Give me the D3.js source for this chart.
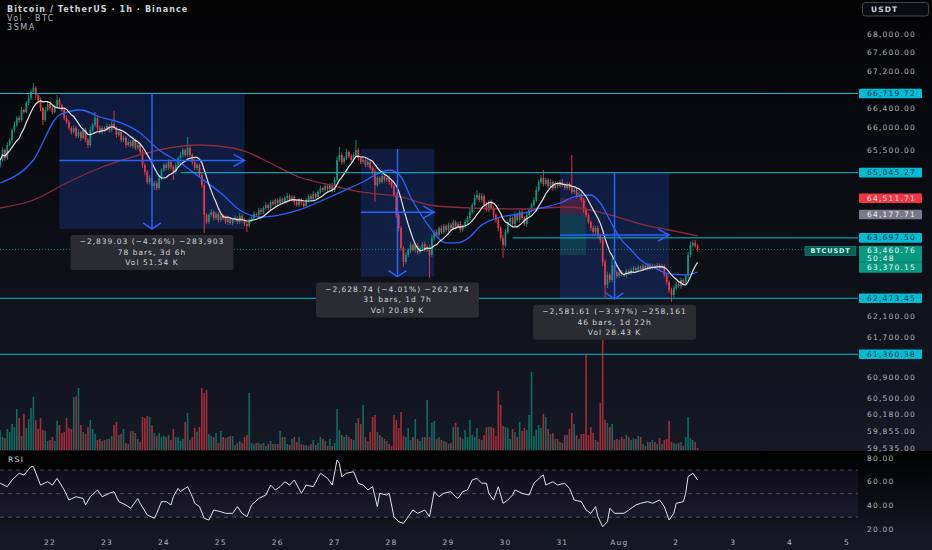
<!DOCTYPE html>
<html>
<head>
<meta charset="utf-8">
<script src="https://cdn.jsdelivr.net/npm/d3@7"></script>
<style>
  html, body { margin: 0; padding: 0; background: #000; }
  svg { display: block; }
</style>
</head>
<body>
<div id="app"></div>
<script>
// ---- BTC/USDT 1h, Jul 21 03:00 .. Aug 2 09:00 (one close per hour) ----
var firstOpen = 65200
var closes = [
  65310, 65520, 65352, 65625, 65731, 65942, 66048, 66197, 66154, 66367,
  66324, 66516, 66623, 66752, 66837, 66687, 66580, 66409, 66154, 66367,
  66495, 66409, 66324, 66452, 66580, 66473, 66367, 66197, 66112, 65985,
  65900, 65985, 65815, 65900, 65773, 65942, 65731, 65625, 65942, 66048,
  66197, 65985, 65900, 65985, 65942, 66027, 65942, 66070, 65985, 65836,
  65900, 65731, 65773, 65625, 65689, 65604, 65731, 65562, 65625, 65478,
  65205, 65058, 64850, 64933, 64767, 64829, 64726, 64933, 65100, 65205,
  65142, 65268, 65163, 65058, 65205, 65352, 65415, 65520, 65415, 65562,
  65415, 65268, 65142, 65205, 64996, 64788, 64167, 64022, 64167, 64229,
  64105, 64187, 64064, 64146, 64105, 64022, 64085, 64002, 64064, 64105,
  64022, 64146, 64064, 63981, 63940, 64064, 64105, 64187, 64167, 64270,
  64229, 64311, 64373, 64311, 64435, 64393, 64476, 64414, 64498, 64435,
  64518, 64560, 64476, 64539, 64435, 64373, 64476, 64414, 64352, 64476,
  64560, 64498, 64601, 64539, 64643, 64726, 64684, 64767, 64705, 64788,
  64684, 64892, 65310, 65415, 65268, 65352, 65478, 65394, 65310, 65415,
  65520, 65352, 65268, 65310, 65205, 65268, 65142, 65058, 64788, 64933,
  64850, 64975, 64892, 64933, 64850, 64767, 64580, 64167, 63899, 63490,
  63205, 63347, 63449, 63551, 63449, 63531, 63409, 63490, 63572, 63449,
  63511, 63347, 63695, 63817, 63756, 63899, 63817, 63940, 63858, 63961,
  63899, 64022, 63920, 63981, 63858, 63940, 64022, 64105, 64229, 64373,
  64518, 64580, 64476, 64560, 64373, 64270, 64435, 64311, 64167, 64064,
  63899, 63695, 63551, 63817, 64022, 64105, 63981, 64167, 64064, 64229,
  64105, 63981, 64167, 64270, 64373, 64476, 64684, 64850, 64933, 64809,
  64892, 64767, 64850, 64726, 64809, 64767, 64850, 64788, 64726, 64809,
  64726, 64643, 64684, 64560, 64601, 64476, 64270, 64167, 64022, 63899,
  63817, 63899, 63736, 63653, 63205, 62741, 62942, 62841, 63144, 63003,
  62922, 63003, 62963, 62942, 63023, 62983, 63043, 63083, 63043, 63104,
  63063, 63124, 63083, 63144, 63083, 63124, 63104, 63144, 63083, 63124,
  62942, 62801, 62639, 62539, 62680, 62761, 62721, 62841, 62801, 62922,
  63347, 63551, 63593, 63531, 63460.76
]
// upper / lower wick beyond the body, in USDT
var wickUp = [
  40, 55, 30, 60, 45, 35, 70, 40, 50, 65,   30, 45, 60, 50, 108, 40, 35, 55, 30, 60,
  45, 70, 40, 35, 107, 50, 30, 45, 60, 40,  35, 55, 40, 65, 30, 45, 50, 35, 60, 40,
  127, 35, 50, 45, 30, 60, 40, 55, 280, 35, 45, 30, 60, 40, 50, 35, 70, 30, 45, 40,
  55, 35, 40, 60, 30, 45, 50, 65, 35, 40,   45, 60, 30, 40, 55, 35, 70, 45, 30, 232,
  40, 35, 55, 45, 30, 60, 50, 40, 35, 55,   30, 45, 40, 60, 35, 50, 30, 45, 40, 55,
  35, 60, 30, 45, 40, 50, 35, 55, 30, 45,   40, 35, 60, 30, 45, 50, 35, 40, 55, 30,
  45, 60, 35, 40, 30, 55, 45, 35, 50, 40,   30, 45, 60, 35, 40, 50, 30, 55, 45, 35,
  40, 60, 75, 168, 50, 45, 70, 35, 40, 55,  211, 45, 35, 60, 40, 50, 30, 45, 55, 40,
  35, 60, 45, 30, 50, 40, 35, 55, 45, 40,   35, 50, 40, 60, 30, 45, 55, 35, 40, 50,
  30, 45, 70, 40, 55, 35, 60, 45, 30, 50,   40, 55, 35, 45, 60, 30, 50, 40, 65, 45,
  70, 104, 45, 60, 40, 55, 35, 50, 40, 30,  45, 35, 60, 50, 40, 55, 30, 65, 45, 40,
  50, 35, 60, 45, 40, 55, 70, 45, 60, 167,  50, 40, 60, 35, 55, 45, 40, 60, 35, 50,
  45, 689, 55, 40, 60, 35, 45, 50, 40, 35,  55, 40, 45, 35, 60, 50, 70, 45, 142, 40,
  35, 50, 40, 30, 45, 35, 50, 40, 30, 45,   35, 40, 30, 45, 35, 50, 30, 40, 35, 45,
  30, 40, 35, 45, 50, 35, 40, 45, 30, 40,   60, 70, 55, 65, 40
]
var wickDn = [
  50, 35, 60, 40, 30, 55, 45, 35, 60, 40,   45, 30, 50, 40, 35, 55, 45, 60, 106, 40,
  35, 50, 45, 30, 40, 60, 35, 50, 45, 40,   55, 35, 45, 40, 60, 30, 50, 63, 40, 35,
  45, 60, 35, 50, 40, 30, 55, 45, 40, 60,   35, 50, 45, 60, 40, 35, 55, 45, 40, 50,
  60, 70, 45, 55, 40, 83, 50, 35, 45, 40,   55, 35, 50, 166, 40, 45, 35, 50, 40, 45,
  35, 50, 45, 40, 60, 55, 370, 45, 40, 35,  50, 40, 55, 35, 45, 40, 60, 35, 50, 40,
  45, 35, 55, 40, 123, 35, 45, 50, 40, 35,  55, 40, 35, 45, 50, 40, 35, 60, 45, 40,
  35, 50, 45, 40, 60, 35, 45, 50, 40, 35,   45, 40, 55, 35, 50, 40, 45, 35, 55, 40,
  50, 45, 40, 35, 55, 45, 40, 50, 35, 45,   40, 55, 45, 35, 50, 40, 45, 60, 353, 40,
  45, 35, 50, 40, 55, 45, 40, 60, 70, 55,   101, 45, 40, 55, 35, 50, 45, 40, 55, 35,
  45, 465, 40, 55, 35, 50, 45, 40, 35, 50,  40, 45, 55, 35, 50, 40, 45, 35, 40, 50,
  35, 45, 40, 55, 50, 35, 45, 40, 55, 60,   70, 55, 265, 45, 40, 50, 35, 45, 40, 55,
  45, 40, 55, 35, 50, 40, 45, 35, 40, 50,   35, 45, 40, 55, 35, 50, 40, 45, 35, 40,
  45, 50, 40, 55, 35, 45, 60, 50, 45, 55,   40, 50, 45, 60, 80, 262, 60, 55, 45, 40,
  50, 35, 45, 40, 55, 35, 45, 40, 50, 35,   40, 45, 35, 50, 40, 35, 45, 40, 50, 35,
  45, 55, 60, 140, 50, 45, 40, 55, 45, 40,  50, 45, 40, 35, 45
]
// volume, BTC per hour
var volumes = [
  800, 520, 480, 840, 720, 1040, 920, 1640, 1280, 560,
  1440, 880, 1240, 1680, 2120, 1200, 840, 1280, 800, 760,
  360, 400, 520, 360, 1160, 1000, 680, 720, 1280, 880,
  840, 2120, 2160, 2480, 1000, 720, 640, 920, 1200,
  840, 640, 400, 440, 360, 400, 440, 440, 560, 1000,
  1120, 600, 640, 840, 280, 240, 760, 760, 680, 440,
  320, 1320, 1280, 1360, 1320, 1000, 680, 560, 680, 520,
  560, 520, 600, 400, 840, 520, 520, 360, 440, 1120,
  1480, 400, 520, 880, 720, 920, 2480, 2280, 2400, 640,
  560, 520, 680, 280, 760, 520, 480, 520, 560, 560,
  200, 280, 360, 280, 520, 600, 2280, 280, 240, 280,
  280, 240, 280, 160, 240, 360, 240, 240, 240, 760,
  520, 520, 240, 200, 440, 520, 320, 520, 240,
  200, 200, 160, 240, 400, 200, 280, 520, 440, 360,
  160, 440, 160, 280, 1640, 800, 600, 520, 600, 520,
  440, 400, 1080, 1280, 1040, 1800, 520, 360, 720, 1320,
  1400, 720, 600, 520, 440, 360, 240, 160, 1400, 1200,
  880, 1520, 560, 520, 880, 400, 520, 1240, 440,
  360, 520, 520, 2000, 520, 1080, 1160, 440, 520, 400,
  360, 320, 240, 280, 920, 1080, 920,
  520, 440, 800, 520, 1200, 600, 520, 880, 440, 400,
  600, 920, 920, 920, 880, 560, 2360, 1800, 960, 920,
  880, 440, 840, 720, 520, 1120, 760, 880, 800, 1400,
  3120, 560, 800, 1000, 880, 1440, 1320, 840, 640, 680,
  440, 440, 320, 280, 600, 600, 840, 1480, 1040, 600,
  440, 640, 640, 3800, 600, 920, 680, 400, 320, 1880,
  5800, 1200, 1080, 920, 1040, 400, 440, 400, 520, 440,
  600, 520, 400, 480, 440, 560, 520, 240, 160, 320,
  320, 400, 320, 240, 480, 240, 400, 440, 1160, 320,
  280, 240, 280, 320, 160, 520, 1320, 480, 400, 320, 80
]
// RSI(14) read at bar index
var rsiBar = [0, 3, 5, 8, 10, 13, 14, 17, 20, 22, 24, 27, 29, 32, 35, 36, 38, 41, 43, 46, 48, 50, 53, 55, 58, 59,
  62, 65, 66, 68, 70, 72, 73, 75, 76, 79, 81, 82, 84, 86, 88, 90, 93, 95, 98, 100, 102, 104, 106, 109, 112, 114,
  116, 118, 120, 122, 124, 127, 129, 132, 135, 138, 140, 142, 143, 144, 146, 149, 151, 153, 155, 157, 159, 160,
  163, 164, 166, 168, 170, 171, 174, 176, 179, 181, 183, 185, 187, 190, 192, 193, 195, 197, 199, 201, 203, 205,
  206, 208, 210, 212, 214, 216, 217, 220, 223, 225, 228, 229, 230, 233, 235, 238, 240, 242, 245, 247, 249, 251,
  252, 254, 256, 257, 259, 263, 265, 268, 270, 273, 275, 278, 280, 282, 284, 285, 288, 289, 290, 292, 294]
var rsiVal = [58.8, 55.9, 61.6, 67.3, 65.8, 72.9, 72.9, 57.3, 60.1, 57.3, 63, 53.1, 44.6, 47.4, 45.9, 40.4, 47.4,
  53.1, 47.4, 50.3, 51.7, 43.2, 40.4, 37.6, 45.9, 41.8, 31.9, 29.1, 33.3, 43.2, 43.2, 40.4, 47.4, 54.5, 51.7, 55.9,
  47.4, 41.8, 39, 29.1, 27.6, 36.1, 34.7, 33.3, 33.3, 39, 33.3, 30.4, 40.4, 45.9, 48.8, 57.3, 53.1, 55.9, 60.1,
  57.3, 61.6, 50.3, 57.3, 55.9, 67.3, 63, 57.3, 78.6, 75.8, 64.4, 67.3, 68.6, 58.8, 57.3, 53.1, 55.9, 39, 50.3,
  48.8, 50.3, 30.4, 26.2, 24.8, 27.6, 36.1, 33.3, 36.1, 30.4, 51.7, 47.4, 50.3, 51.7, 47.4, 46, 51.7, 53.1, 61.6,
  63, 58.8, 58.8, 50.3, 44.6, 55.9, 41.8, 44.6, 48.8, 53.1, 50.3, 48.8, 58.8, 64.4, 65.8, 57.3, 60.1, 57.3, 58.8,
  54.5, 44.6, 43.2, 36.1, 33.3, 39, 30.4, 21.9, 26.2, 37.6, 33.3, 33.3, 36.1, 40.4, 41.8, 43.2, 41.8, 44.6, 39,
  27.6, 33.3, 41.8, 43.2, 50.3, 64.4, 67.3, 61.6]
// medium (blue) and slow (red) SMA read at bar index
var blueBar = [0, 14, 25, 34, 42, 51, 59, 67, 76, 84, 93, 101, 110, 118, 126, 139, 152, 164, 169, 173, 177, 181,
  188, 192, 198, 202, 211, 219, 228, 236, 242, 249, 253, 257, 261, 266, 270, 276, 282, 289, 294]
var bluePrice = [64829, 65310, 66260, 66367, 66218, 66091, 65879, 65520, 65247, 64954, 64622, 64270, 64125, 64167,
  64270, 64539, 64829, 65100, 64954, 64539, 64208, 63920, 63593, 63593, 63715, 63920, 64125, 64187, 64311, 64414,
  64539, 64580, 64414, 64064, 63715, 63449, 63245, 63083, 62963, 62942, 63003]
var redBar = [0, 14, 28, 42, 56, 67, 84, 98, 104, 113, 126, 139, 152, 169, 181, 198, 219, 240, 257, 270, 282, 294]
var redPrice = [64311, 64476, 64829, 65142, 65373, 65520, 65625, 65562, 65478, 65268, 64954, 64788, 64643, 64539,
  64373, 64311, 64290, 64332, 64167, 63981, 63858, 63736]
var fastLen = 9

// horizontal rays
var levelPrices = [66719.72, 65045.27, 63697.50, 62473.45, 61360.38]
var levelStart = [-2, 76, 216, -2, -2]

// date range measurements
var measStart = [25, 152, 236]
var measEnd = [103, 183, 282]
var measTop = [66719.72, 65540.00, 65045.27]
var measBottom = [63880.69, 62911.26, 62463.66]
var measText = [
  ['\u22122,839.03 (\u22124.26%) \u2212283,903', '78 bars, 3d 6h', 'Vol 51.54 K'],
  ['\u22122,628.74 (\u22124.01%) \u2212262,874', '31 bars, 1d 7h', 'Vol 20.89 K'],
  ['\u22122,581.61 (\u22123.97%) \u2212258,161', '46 bars, 1d 22h', 'Vol 28.43 K']
]

// short position tool
var posStart = 236, posEnd = 247
var posStop = 64511.71, posEntry = 64177.71, posTarget = 63347

var lastPrice = 63460.76, lastSma = 63370.15, countdown = '50:48'

var priceTicks = [68400, 68000, 67600, 67200, 66800, 66400, 66000, 65500, 65000, 64500, 64100, 63700, 63300,
  62900, 62500, 62100, 61700, 61300, 60900, 60500, 60180, 59855, 59535]
var rsiTicks = [80, 60, 40, 20]
var rsiLevels = [70, 50, 30]
var dayDates = ['2024-07-22', '2024-07-23', '2024-07-24', '2024-07-25', '2024-07-26', '2024-07-27', '2024-07-28',
  '2024-07-29', '2024-07-30', '2024-07-31', '2024-08-01', '2024-08-02', '2024-08-03', '2024-08-04', '2024-08-05']
var dayLabels = ['22', '23', '24', '25', '26', '27', '28', '29', '30', '31', 'Aug', '2', '3', '4', '5']

// ---- layout ----
var W = 932, H = 550
var plotR = 858
var mainBot = 451, rsiTop = 451, rsiBot = 536
var UP = '#089981', DOWN = '#f23645', CYAN = '#00bcd4'
var AXIS_TXT = '#b2b5be'

var t0 = Date.UTC(2024, 6, 21, 3)
var HOUR = 3600e3

var x = d3.scaleUtc().domain([t0, Date.UTC(2024, 7, 5)]).range([0.19, 847])
var y = d3.scaleLog().domain([59535, 68000]).range([448.3, 34.3])
var yVol = d3.scaleLinear().domain([0, 5800]).range([450, 305])
var yRsi = d3.scaleLinear().domain([20, 80]).range([529, 458.3])
var fmt = d3.format(',.2f')

function bx(i) { return x(t0 + i * HOUR) }

var bars = closes.map(function (c, i) {
  var o = i ? closes[i - 1] : firstOpen
  return { i: i, o: o, c: c, h: Math.max(o, c) + wickUp[i], l: Math.min(o, c) - wickDn[i], v: volumes[i] }
})

var fast = closes.map(function (c, i) {
  return d3.mean(closes.slice(Math.max(0, i - fastLen + 1), i + 1))
})

var svg = d3.select('#app').append('svg')
  .attr('width', W)
  .attr('height', H)
  .style('font-family', '"DejaVu Sans", sans-serif')

var defs = svg.append('defs')

function gradient(id, c0, c1) {
  var g = defs.append('linearGradient').attr('id', id)
    .attr('x1', 0).attr('y1', 0).attr('x2', 0).attr('y2', 1)
  g.append('stop').attr('offset', '0%').attr('stop-color', c0)
  g.append('stop').attr('offset', '100%').attr('stop-color', c1)
}
gradient('bgMain', '#030304', '#151924')
gradient('bgRsi', '#000000', '#141823')

defs.append('clipPath').attr('id', 'clipMain')
  .append('rect').attr('width', plotR).attr('height', mainBot)
defs.append('clipPath').attr('id', 'clipRsi')
  .append('rect').attr('y', rsiTop).attr('width', plotR).attr('height', rsiBot - rsiTop)

svg.append('rect').attr('width', W).attr('height', mainBot).attr('fill', 'url(#bgMain)')
svg.append('rect').attr('y', rsiTop).attr('width', W).attr('height', rsiBot - rsiTop).attr('fill', 'url(#bgRsi)')
svg.append('rect').attr('y', rsiBot).attr('width', W).attr('height', H - rsiBot).attr('fill', '#141823')

function label(g, px, py, s, o) {
  o = o || {}
  return g.append('text')
    .attr('x', px).attr('y', py)
    .attr('dominant-baseline', 'central')
    .attr('text-anchor', o.anchor || 'start')
    .attr('font-size', o.size || 7.5)
    .attr('font-weight', o.weight || 400)
    .attr('letter-spacing', o.ls == null ? 1.2 : o.ls)
    .attr('fill', o.fill || AXIS_TXT)
    .text(s)
}

var main = svg.append('g').attr('clip-path', 'url(#clipMain)')

// measurement boxes (fill)
measStart.forEach(function (s, k) {
  main.append('rect')
    .attr('x', bx(s)).attr('width', bx(measEnd[k]) - bx(s))
    .attr('y', y(measTop[k])).attr('height', y(measBottom[k]) - y(measTop[k]))
    .attr('fill', 'rgba(41,98,255,0.2)')
})

// position tool
main.append('rect')
  .attr('x', bx(posStart)).attr('width', bx(posEnd) - bx(posStart))
  .attr('y', y(posStop)).attr('height', y(posEntry) - y(posStop))
  .attr('fill', 'rgba(242,54,69,0.22)')
main.append('rect')
  .attr('x', bx(posStart)).attr('width', bx(posEnd) - bx(posStart))
  .attr('y', y(posEntry)).attr('height', y(posTarget) - y(posEntry))
  .attr('fill', 'rgba(8,153,129,0.22)')

// volume
main.append('g').selectAll('rect').data(bars).enter().append('rect')
  .attr('x', function (d) { return bx(d.i) - 0.8 })
  .attr('width', 1.6)
  .attr('y', function (d) { return yVol(d.v) })
  .attr('height', function (d) { return yVol(0) - yVol(d.v) })
  .attr('fill', function (d) { return d.c >= d.o ? UP : DOWN })
  .attr('opacity', 0.65)

// candles
var cg = main.append('g')
cg.selectAll('line').data(bars).enter().append('line')
  .attr('x1', function (d) { return bx(d.i) }).attr('x2', function (d) { return bx(d.i) })
  .attr('y1', function (d) { return y(d.h) }).attr('y2', function (d) { return y(d.l) })
  .attr('stroke', function (d) { return d.c >= d.o ? UP : DOWN })
  .attr('stroke-width', 0.9)
cg.selectAll('rect').data(bars).enter().append('rect')
  .attr('x', function (d) { return bx(d.i) - 0.85 })
  .attr('width', 1.7)
  .attr('y', function (d) { return y(Math.max(d.o, d.c)) })
  .attr('height', function (d) { return Math.max(0.8, Math.abs(y(d.o) - y(d.c))) })
  .attr('fill', function (d) { return d.c >= d.o ? UP : DOWN })

// moving averages
var curve = d3.line().curve(d3.curveMonotoneX)
main.append('path')
  .attr('d', curve(redBar.map(function (b, k) { return [bx(b), y(redPrice[k])] })))
  .attr('fill', 'none').attr('stroke', '#8a2c3c').attr('stroke-width', 1.3)
main.append('path')
  .attr('d', curve(blueBar.map(function (b, k) { return [bx(b), y(bluePrice[k])] })))
  .attr('fill', 'none').attr('stroke', '#2962ff').attr('stroke-width', 1.3)
main.append('path')
  .attr('d', d3.line()(fast.map(function (v, i) { return [bx(i), y(v)] })))
  .attr('fill', 'none').attr('stroke', '#e0e3eb').attr('stroke-width', 1.2)

// horizontal rays
levelPrices.forEach(function (p, k) {
  main.append('line')
    .attr('x1', bx(levelStart[k])).attr('x2', plotR)
    .attr('y1', y(p)).attr('y2', y(p))
    .attr('stroke', CYAN).attr('stroke-width', 1)
})

// last price line
main.append('line')
  .attr('x1', 0).attr('x2', plotR)
  .attr('y1', y(lastPrice)).attr('y2', y(lastPrice))
  .attr('stroke', UP).attr('stroke-width', 1).attr('stroke-dasharray', '1,2').attr('opacity', 0.8)

// measurement arrows + info labels
measStart.forEach(function (s, k) {
  var x0 = bx(s), x1 = bx(measEnd[k]), xm = (x0 + x1) / 2
  var yt = y(measTop[k]), yb = y(measBottom[k])
  var ym = y((measTop[k] + measBottom[k]) / 2)
  var a = main.append('g').attr('fill', 'none').attr('stroke', '#2962ff').attr('stroke-width', 1.5)
  a.append('line').attr('x1', xm).attr('x2', xm).attr('y1', yt).attr('y2', yb)
  a.append('polyline').attr('points', [[xm - 9, yb - 6], [xm, yb], [xm + 9, yb - 6]].join(' '))
  a.append('line').attr('x1', x0).attr('x2', x1).attr('y1', ym).attr('y2', ym)
  a.append('polyline').attr('points', [[x1 - 11, ym - 6], [x1, ym], [x1 - 11, ym + 6]].join(' '))

  var lt = yb + 6
  main.append('rect')
    .attr('x', xm - 81.5).attr('y', lt).attr('width', 163).attr('height', 35).attr('rx', 3)
    .attr('fill', '#2b2c31')
  measText[k].forEach(function (t, j) {
    label(main, xm, lt + 6.8 + j * 10.6, t, { anchor: 'middle', fill: '#d1d4dc', ls: 1 })
  })
})

// BTCUSDT tag next to price scale
main.append('rect')
  .attr('x', 805).attr('y', y(lastPrice) - 3).attr('width', 51).attr('height', 9)
  .attr('fill', '#0b5f56').attr('stroke', UP).attr('stroke-width', 0.6)
label(main, 830.5, y(lastPrice) + 1.5, 'BTCUSDT', { anchor: 'middle', size: 6.5, ls: 0.9, fill: '#d6f2ec', weight: 700 })

// ---- RSI pane ----
var rsi = svg.append('g').attr('clip-path', 'url(#clipRsi)')
rsi.append('rect')
  .attr('x', 0).attr('width', plotR)
  .attr('y', yRsi(70)).attr('height', yRsi(30) - yRsi(70))
  .attr('fill', 'rgba(126,87,194,0.1)')
rsiLevels.forEach(function (v) {
  rsi.append('line')
    .attr('x1', 0).attr('x2', plotR).attr('y1', yRsi(v)).attr('y2', yRsi(v))
    .attr('stroke', '#787b86').attr('stroke-width', 0.8)
    .attr('stroke-dasharray', '4,4').attr('opacity', 0.7)
})
rsi.append('path')
  .attr('d', d3.line()(rsiBar.map(function (b, k) { return [bx(b), yRsi(rsiVal[k])] })))
  .attr('fill', 'none').attr('stroke', '#e0e3eb').attr('stroke-width', 1)
label(svg, 8, 459.5, 'RSI', { fill: '#d1d4dc', ls: 1.4 })

// ---- price scale ----
var ax = svg.append('g')
var yl = y(lastPrice)
var tagYs = levelPrices.concat([posStop, posEntry]).map(y)

// a tick label hidden behind a price tag or the currency button is not drawn
priceTicks.filter(function (p) {
  var ty = y(p)
  if (ty < 22) return false
  if (ty > yl - 9 && ty < yl + 28) return false
  return tagYs.every(function (t) { return Math.abs(t - ty) > 8 })
}).forEach(function (p) {
  label(ax, 867, y(p), fmt(p))
})
rsiTicks.forEach(function (v) {
  label(ax, 867, yRsi(v), fmt(v))
})

function axisTag(p, bg, fg) {
  ax.append('rect').attr('x', 859).attr('y', y(p) - 4.8).attr('width', 63).attr('height', 9.6)
    .attr('rx', 1).attr('fill', bg)
  label(ax, 867, y(p), fmt(p), { fill: fg })
}
levelPrices.forEach(function (p) { axisTag(p, CYAN, '#0f2f36') })
axisTag(posStop, DOWN, '#fbe3e6')
axisTag(posEntry, '#787b86', '#f0f1f4')

ax.append('rect').attr('x', 859).attr('y', yl - 3.8).attr('width', 63).attr('height', 27)
  .attr('rx', 1).attr('fill', UP)
label(ax, 867, yl + 0.8, fmt(lastPrice), { fill: '#e9f7f4' })
label(ax, 867, yl + 8.8, countdown, { fill: '#e9f7f4' })
ax.append('line').attr('x1', 859).attr('x2', 922).attr('y1', yl + 12.6).attr('y2', yl + 12.6)
  .attr('stroke', '#077a68').attr('stroke-width', 0.8)
label(ax, 867, yl + 17.8, fmt(lastSma), { fill: '#e9f7f4' })

// currency button
ax.append('rect').attr('x', 862.5).attr('y', 2.5).attr('width', 66).attr('height', 13.5).attr('rx', 3)
  .attr('fill', '#0b0c0f').attr('stroke', '#434651')
label(ax, 871, 9.3, 'USDT', { fill: '#d1d4dc', weight: 700, ls: 1.1 })

// ---- time scale ----
dayDates.forEach(function (d, k) {
  label(svg, x(new Date(d + 'T00:00:00Z')), 542, dayLabels[k], { anchor: 'middle' })
})

// ---- legend ----
label(svg, 7, 9, 'Bitcoin / TetherUS \u00b7 1h \u00b7 Binance', { fill: '#d1d4dc', size: 8, weight: 700, ls: 1.1 })
label(svg, 7, 18.3, 'Vol \u00b7 BTC', { fill: '#b2b5be', size: 8, ls: 1.4 })
label(svg, 7, 27.3, '3SMA', { fill: '#b2b5be', size: 8, ls: 1.6 })
</script>
</body>
</html>
